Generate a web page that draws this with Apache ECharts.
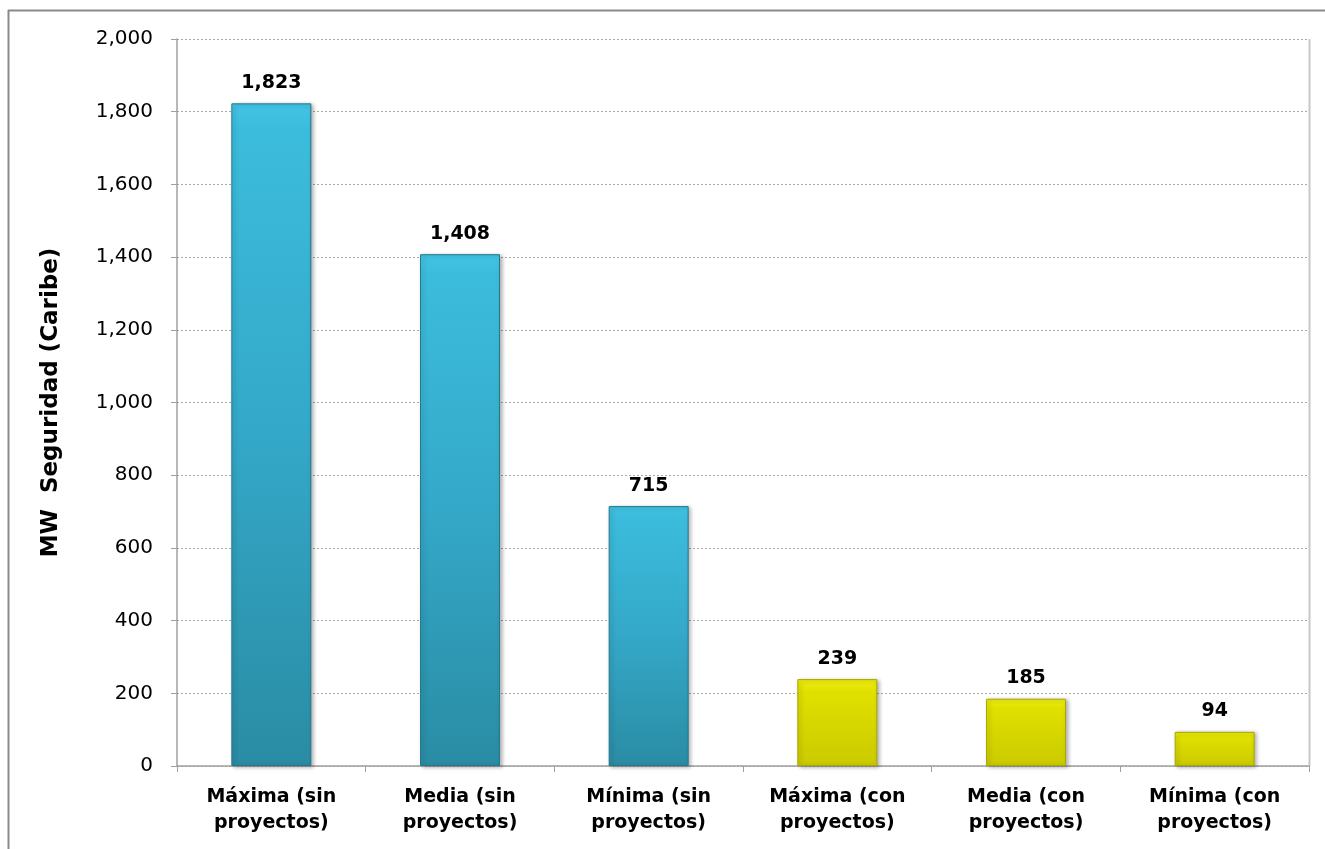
<!DOCTYPE html>
<html><head><meta charset="utf-8">
<script src="https://cdn.jsdelivr.net/npm/echarts@6/dist/echarts.min.js"></script>
<style>html,body{margin:0;padding:0;background:#fff}#c{width:1325px;height:849px}</style>
</head><body><div id="c"></div>
<script>
const categories = ['Máxima (sin\nproyectos)','Media (sin\nproyectos)','Mínima (sin\nproyectos)','Máxima (con\nproyectos)','Media (con\nproyectos)','Mínima (con\nproyectos)'];
const values = [1823, 1408, 715, 239, 185, 94];
const groups = ['sin','sin','sin','con','con','con'];
const yTicks = [0, 200, 400, 600, 800, 1000, 1200, 1400, 1600, 1800, 2000];

const blue = {type:'linear',x:0,y:0,x2:0,y2:1,colorStops:[{offset:0,color:'#42c4e4'},{offset:0.04,color:'#3cbcdc'},{offset:0.5,color:'#34a8c8'},{offset:1,color:'#2a8ca4'}]};
const yellow = {type:'linear',x:0,y:0,x2:0,y2:1,colorStops:[{offset:0,color:'#eeee10'},{offset:0.15,color:'#e0e000'},{offset:1,color:'#caca00'}]};

const chart = echarts.init(document.getElementById('c'));
chart.setOption({
  animation:false,
  graphic:[
    {type:'line',shape:{x1:8.5,y1:10,x2:8.5,y2:849},style:{stroke:'#8a8a8a',lineWidth:2}},
    {type:'line',shape:{x1:8,y1:10.5,x2:1325,y2:10.5},style:{stroke:'#8a8a8a',lineWidth:2}},
    {type:'line',shape:{x1:1309.5,y1:39,x2:1309.5,y2:766},style:{stroke:'#c8c8c8',lineWidth:2}}
  ],
  grid:{left:177,right:16,top:39,bottom:83},
  xAxis:{type:'category',data:categories,
    axisLine:{lineStyle:{color:'#a0a0a0',width:1.5}},
    axisTick:{show:true,length:6,lineStyle:{color:'#a0a0a0'}},
    axisLabel:{color:'#000',fontFamily:'DejaVu Sans',fontWeight:'bold',fontSize:19,lineHeight:26,margin:18}
  },
  yAxis:{type:'value',min:0,max:2000,interval:200,
    name:'MW  Seguridad (Caribe)',nameLocation:'middle',nameGap:114,
    nameTextStyle:{color:'#000',fontFamily:'DejaVu Sans',fontWeight:'bold',fontSize:23},
    axisLine:{show:true,lineStyle:{color:'#a0a0a0',width:1.5}},
    axisTick:{show:true,length:6,lineStyle:{color:'#a0a0a0'}},
    splitLine:{lineStyle:{color:'#a8a8a8',type:[2,2],width:1}},
    axisLabel:{color:'#000',fontFamily:'DejaVu Sans',fontSize:20,margin:24,
      formatter:v=>yTicks.includes(v)?v.toLocaleString('en-US'):''}
  },
  series:[{
    type:'bar',barWidth:80,
    data:values.map((v,i)=>({value:v,itemStyle:{color:groups[i]==='sin'?blue:yellow,
      borderColor:groups[i]==='sin'?'#23788c':'#a8a800',borderWidth:1,
      shadowColor:'rgba(0,0,0,0.3)',shadowBlur:4,shadowOffsetX:2,shadowOffsetY:1}})),
    label:{show:true,position:'top',distance:11,color:'#000',fontFamily:'DejaVu Sans',fontWeight:'bold',fontSize:19,
      formatter:p=>p.value.toLocaleString('en-US')}
  }]
});
</script></body></html>
